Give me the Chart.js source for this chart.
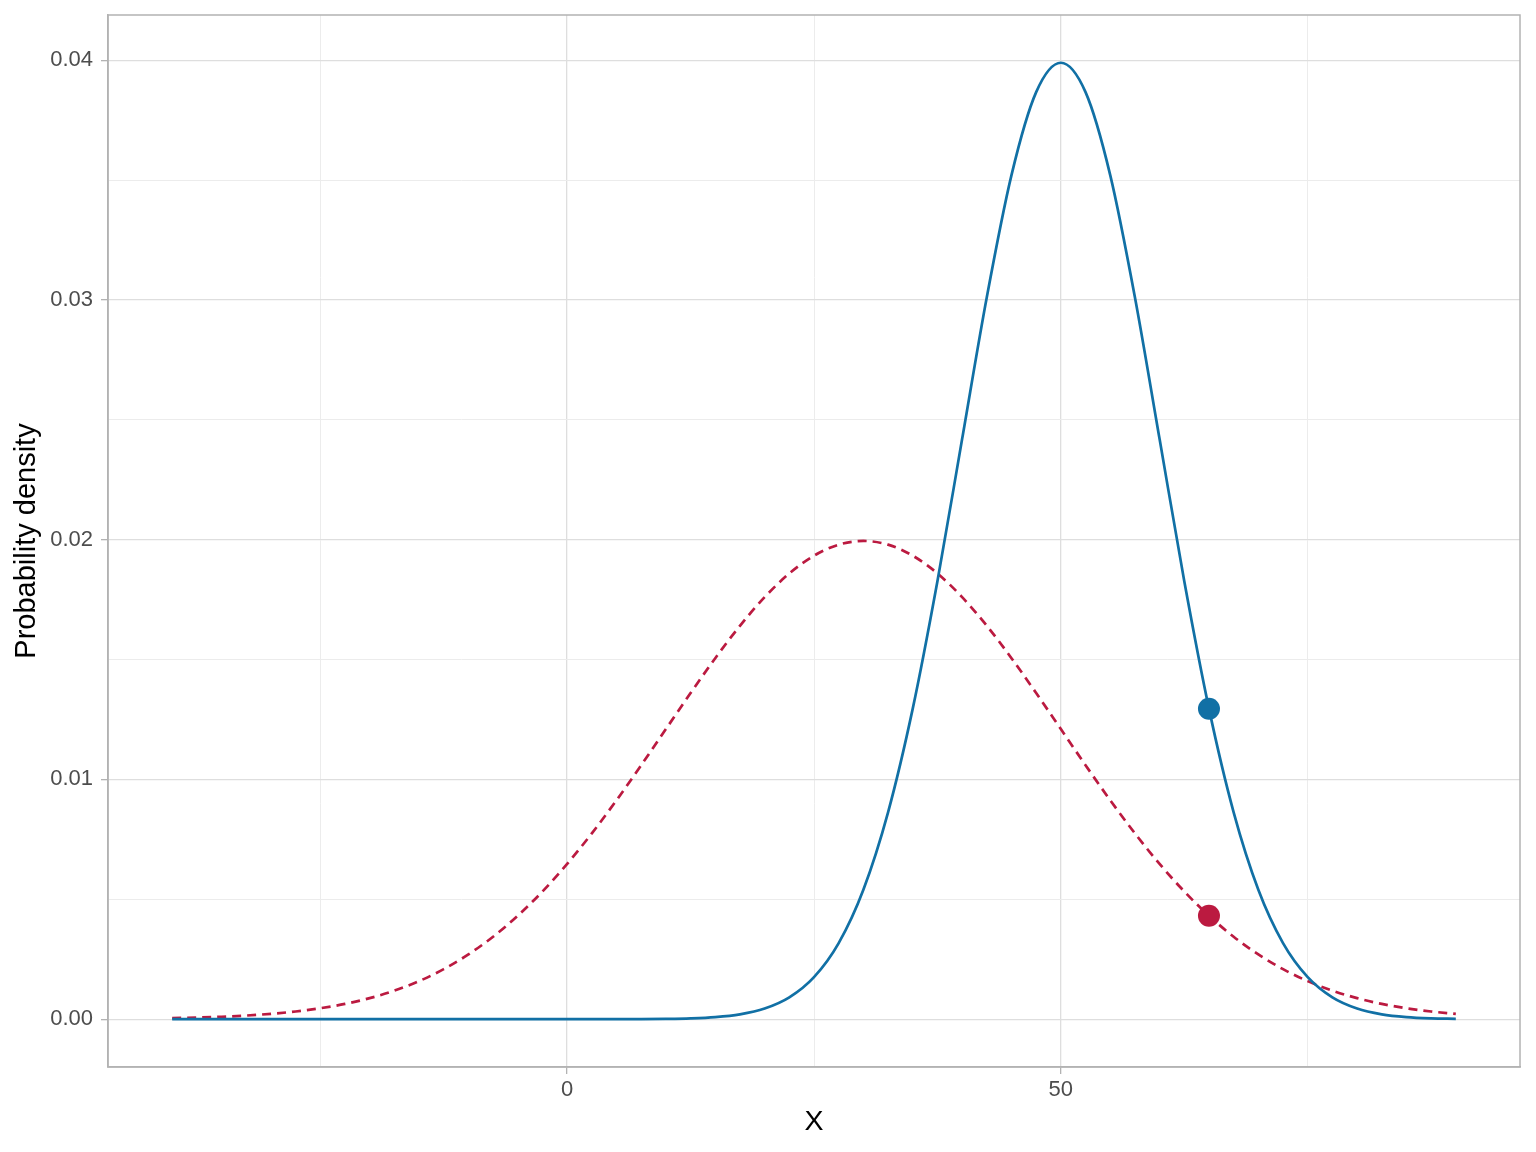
<!DOCTYPE html>
<html>
<head>
<meta charset="utf-8">
<script src="https://cdn.jsdelivr.net/npm/chart.js@4/dist/chart.umd.min.js"></script>
<style>
  html, body { margin: 0; padding: 0; background: #ffffff; }
  #wrap { width: 1536px; height: 1152px; position: relative; }
</style>
</head>
<body>
<div id="wrap"><canvas id="c" width="1536" height="1152"></canvas></div>
<script>
// ---- Data ----
const xValues = [-40,-37.5,-35,-32.5,-30,-27.5,-25,-22.5,-20,-17.5,-15,-12.5,-10,-7.5,-5,-2.5,0,2.5,5,7.5,10,12.5,15,17.5,20,22.5,25,27.5,30,32.5,35,37.5,40,42.5,45,47.5,50,52.5,55,57.5,60,62.5,65,67.5,70,72.5,75,77.5,80,82.5,85,87.5,90];

const blueDensity = [0,0,0,0,0,0,0,0,0,0,0,0,0,0,0,0,0.0000001,0.0000005,0.0000016,0.0000047,0.0000134,0.0000353,0.0000873,0.000203,0.000443,0.000909,0.001753,0.003174,0.005399,0.008628,0.012952,0.018265,0.024197,0.030114,0.035207,0.038667,0.039894,0.038667,0.035207,0.030114,0.024197,0.018265,0.012952,0.008628,0.005399,0.003174,0.001753,0.000909,0.000443,0.000203,0.0000873,0.0000353,0.0000134];

const redDensity = [0.0000436,0.0000671,0.000101,0.000151,0.000222,0.000320,0.000455,0.000636,0.000876,0.001189,0.001587,0.002086,0.002700,0.003439,0.004314,0.005327,0.006476,0.007751,0.009132,0.010594,0.012099,0.013603,0.015057,0.016408,0.017603,0.018593,0.019333,0.019792,0.019947,0.019792,0.019333,0.018593,0.017603,0.016408,0.015057,0.013603,0.012099,0.010594,0.009132,0.007751,0.006476,0.005327,0.004314,0.003439,0.002700,0.002086,0.001587,0.001189,0.000876,0.000636,0.000455,0.000320,0.000222];

const markX = [65];
const blueMarkY = [0.01295];
const redMarkY = [0.004314];

const xTickValues = [-25, 0, 25, 50, 75];
const xLabelValues = [0, 50];
const yTickValues = [0, 0.005, 0.01, 0.015, 0.02, 0.025, 0.03, 0.035, 0.04];
const yLabelValues = [0, 0.01, 0.02, 0.03, 0.04];

const xTitle = 'X';
const yTitle = 'Probability density';

// ---- Styles ----
const BLUE = '#1170a5';
const RED = '#bb1a40';
const GRID = '#dedede';
const GRID_MINOR = '#ececec';
const BORDER = '#b3b3b3';
const TEXT = '#4d4d4d';
const FONT = "'Liberation Sans', Arial, Helvetica, sans-serif";

const toXY = (xs, ys) => xs.map((x, i) => ({ x: x, y: ys[i] }));
const isMajor = (v, list) => list.some(m => Math.abs(m - v) < 1e-9);

const panelBorder = {
  id: 'panelBorder',
  afterDraw(chart) {
    const a = chart.chartArea, ctx = chart.ctx;
    ctx.save();
    ctx.strokeStyle = BORDER;
    ctx.lineWidth = 1.5;
    ctx.strokeRect(a.left, a.top, a.right - a.left, a.bottom - a.top);
    ctx.restore();
  }
};

new Chart(document.getElementById('c'), {
  type: 'scatter',
  data: {
    datasets: [
      { label: 'blue point', data: toXY(markX, blueMarkY), pointRadius: 11, pointHoverRadius: 11,
        backgroundColor: BLUE, borderColor: BLUE, borderWidth: 0, showLine: false, order: 0 },
      { label: 'red point', data: toXY(markX, redMarkY), pointRadius: 11, pointHoverRadius: 11,
        backgroundColor: RED, borderColor: RED, borderWidth: 0, showLine: false, order: 0 },
      { label: 'N(50,10)', data: toXY(xValues, blueDensity), showLine: true, pointRadius: 0,
        borderColor: BLUE, borderWidth: 2.7, cubicInterpolationMode: 'monotone', fill: false, order: 1 },
      { label: 'N(30,20)', data: toXY(xValues, redDensity), showLine: true, pointRadius: 0,
        borderColor: RED, borderWidth: 2.7, borderDash: [9, 6], cubicInterpolationMode: 'monotone', fill: false, order: 2 }
    ]
  },
  options: {
    responsive: false,
    animation: false,
    devicePixelRatio: 1,
    layout: { padding: { left: 0, right: 16, top: 15, bottom: 0 } },
    plugins: { legend: { display: false }, tooltip: { enabled: false } },
    scales: {
      x: {
        type: 'linear',
        min: -46.5,
        max: 96.5,
        afterBuildTicks: (scale) => { scale.ticks = xTickValues.map(v => ({ value: v })); },
        afterFit: (scale) => { scale.height = 85; scale.paddingLeft = 0; scale.paddingRight = 0; },
        grid: {
          color: (ctx) => isMajor(ctx.tick.value, xLabelValues) ? GRID : GRID_MINOR,
          tickColor: (ctx) => isMajor(ctx.tick.value, xLabelValues) ? BORDER : 'rgba(0,0,0,0)',
          lineWidth: (ctx) => isMajor(ctx.tick.value, xLabelValues) ? 1.3 : 1,
          tickLength: 7,
          drawTicks: true
        },
        border: { display: true, color: BORDER, width: 1.5 },
        ticks: {
          autoSkip: false,
          maxRotation: 0,
          padding: 3,
          color: TEXT,
          font: { family: FONT, size: 22 },
          callback: (v) => isMajor(v, xLabelValues) ? String(v) : ''
        },
        title: {
          display: true, text: xTitle, color: '#000000',
          font: { family: FONT, size: 28.5 },
          padding: { top: 0, bottom: 13 }
        }
      },
      y: {
        type: 'linear',
        min: -0.001995,
        max: 0.041885,
        afterBuildTicks: (scale) => { scale.ticks = yTickValues.map(v => ({ value: v })); },
        afterFit: (scale) => { scale.width = 108; scale.paddingTop = 0; scale.paddingBottom = 0; },
        grid: {
          color: (ctx) => isMajor(ctx.tick.value, yLabelValues) ? GRID : GRID_MINOR,
          tickColor: (ctx) => isMajor(ctx.tick.value, yLabelValues) ? BORDER : 'rgba(0,0,0,0)',
          lineWidth: (ctx) => isMajor(ctx.tick.value, yLabelValues) ? 1.3 : 1,
          tickLength: 7,
          drawTicks: true
        },
        border: { display: true, color: BORDER, width: 1.5 },
        ticks: {
          autoSkip: false,
          padding: 8,
          color: TEXT,
          font: { family: FONT, size: 22 },
          callback: (v) => isMajor(v, yLabelValues) ? v.toFixed(2) : ''
        },
        title: {
          display: true, text: yTitle, color: '#000000',
          font: { family: FONT, size: 29 },
          padding: { top: 10, bottom: 0 }
        }
      }
    }
  },
  plugins: [panelBorder]
});
</script>
</body>
</html>
